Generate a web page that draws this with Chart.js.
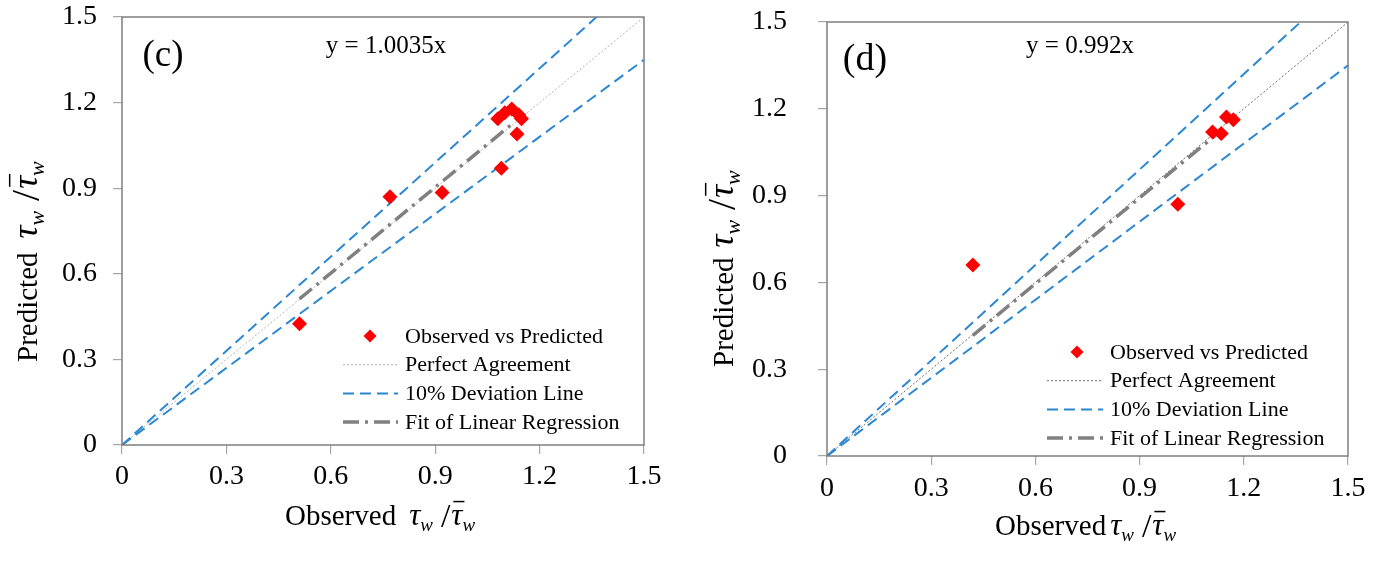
<!DOCTYPE html>
<html>
<head>
<meta charset="utf-8">
<script src="https://cdn.jsdelivr.net/npm/chart.js@4.4.0/dist/chart.umd.min.js"></script>
<style>
  html, body { margin: 0; padding: 0; background: #fff; }
  #wrap { position: relative; width: 1386px; height: 572px; }
  .pane { position: absolute; top: 0; width: 693px; height: 572px; }
</style>
</head>
<body>
<div id="wrap">
  <div class="pane" style="left:0"><canvas id="chartC" width="693" height="572"></canvas></div>
  <div class="pane" style="left:693px"><canvas id="chartD" width="693" height="572"></canvas></div>
</div>
<script>
/* ==================== */
/* 1  Data               */
/* ==================== */
const tickValues = [0, 0.3, 0.6, 0.9, 1.2, 1.5];
const tickLabels = ['0', '0.3', '0.6', '0.9', '1.2', '1.5'];

const legendLabels = ['Observed vs Predicted', 'Perfect Agreement', '10% Deviation Line', 'Fit of Linear Regression'];

// panel (c)
const observedC = [0.51, 0.77, 0.92, 1.09, 1.135, 1.08, 1.10, 1.12, 1.14, 1.148];
const predictedC = [0.425, 0.87, 0.885, 0.97, 1.09, 1.143, 1.164, 1.178, 1.157, 1.143];
const fitXC = [0.51, 1.12];
const fitYC = [0.512, 1.124];

// panel (d)
const observedD = [0.42, 1.01, 1.11, 1.135, 1.15, 1.17];
const predictedD = [0.66, 0.87, 1.12, 1.115, 1.172, 1.162];
const fitXD = [0.42, 1.13];
const fitYD = [0.417, 1.12];

// reference lines (both panels)
const refX = [0, 1.5];
const perfectY = [0, 1.5];
const devUpperY = [0, 1.65];
const devLowerY = [0, 1.35];

/* ==================== */
/* 2  Helpers            */
/* ==================== */
const SERIF = '"Liberation Serif", "Times New Roman", serif';
const toPts = (xs, ys) => xs.map((x, i) => ({ x: x, y: ys[i] }));

// "prefix  τw / τ̄w" drawn piece by piece (subscripts + overline)
function drawTauLabel(ctx, x, y, prefix, t) {
  ctx.textAlign = 'left';
  ctx.textBaseline = 'alphabetic';
  ctx.fillStyle = '#000';
  ctx.font = t.fs + 'px ' + SERIF;
  ctx.fillText(prefix, x, y);
  x += ctx.measureText(prefix).width + t.gap;
  const sub = Math.round(t.tfs * 0.6);
  const tau = (bar) => {
    ctx.font = 'italic ' + t.tfs + 'px ' + SERIF;
    const w = ctx.measureText('τ').width;
    ctx.fillText('τ', x, y);
    if (bar) ctx.fillRect(x + 2, y - t.tfs * 0.78, w, 1.5);
    x += w;
    ctx.font = 'italic ' + sub + 'px ' + SERIF;
    ctx.fillText('w', x, y + t.tfs * 0.2);
    x += ctx.measureText('w').width;
  };
  tau(false);
  x += t.slashGap;
  ctx.font = Math.round(t.tfs * 1.1) + 'px ' + SERIF;
  ctx.fillText('/', x, y + 2);
  x += ctx.measureText('/').width + 1;
  tau(true);
}

function drawDiamond(ctx, x, y, r, color) {
  ctx.fillStyle = color;
  ctx.beginPath();
  ctx.moveTo(x, y - r);
  ctx.lineTo(x + r, y);
  ctx.lineTo(x, y + r);
  ctx.lineTo(x - r, y);
  ctx.closePath();
  ctx.fill();
}

/* ==================== */
/* 3  Decor plugin       */
/* ==================== */
const decorPlugin = {
  id: 'decor',
  afterDraw(chart, args, o) {
    const { ctx, chartArea: a } = chart;
    const ds = chart.data.datasets;
    ctx.save();

    // frame
    ctx.strokeStyle = '#7f7f7f';
    ctx.lineWidth = 1.5;
    ctx.setLineDash([]);
    ctx.strokeRect(a.left, a.top, a.right - a.left, a.bottom - a.top);

    // panel tag and equation
    ctx.fillStyle = '#000';
    ctx.textAlign = 'center';
    ctx.textBaseline = 'alphabetic';
    ctx.font = o.tagSize + 'px ' + SERIF;
    ctx.fillText(o.tag, o.tagX, o.tagY);
    ctx.font = '25px ' + SERIF;
    ctx.fillText(o.eq, o.eqX, o.eqY);

    // legend
    const lg = o.legend;
    ctx.font = '22px ' + SERIF;
    ctx.textAlign = 'left';
    ctx.textBaseline = 'middle';
    legendLabels.forEach((label, i) => {
      const y = lg.y0 + i * lg.step;
      const d = ds[i];
      if (i === 0) {
        drawDiamond(ctx, lg.dot, y, 6.5, d.backgroundColor);
      } else {
        ctx.strokeStyle = d.borderColor;
        ctx.lineWidth = d.borderWidth;
        ctx.setLineDash(d.borderDash || []);
        ctx.beginPath();
        ctx.moveTo(lg.x0, y);
        ctx.lineTo(lg.x1, y);
        ctx.stroke();
        ctx.setLineDash([]);
      }
      ctx.fillStyle = '#000';
      ctx.fillText(label, lg.tx, y + 1);
    });

    // axis titles
    drawTauLabel(ctx, o.xTitle.x, o.xTitle.y, 'Observed', o.xTitle);
    ctx.save();
    ctx.translate(o.yTitle.x, o.yTitle.y);
    ctx.rotate(-Math.PI / 2);
    drawTauLabel(ctx, 0, 0, 'Predicted', o.yTitle);
    ctx.restore();

    ctx.restore();
  }
};

/* ==================== */
/* 4  Chart builder      */
/* ==================== */
function makeChart(id, obs, pred, fitX, fitY, g) {
  const tickFont = { family: SERIF, size: 28 };
  const axis = (fitFn, pad) => ({
    type: 'linear',
    min: 0,
    max: 1.5,
    afterBuildTicks: (s) => { s.ticks = tickValues.map(v => ({ value: v })); },
    afterFit: fitFn,
    grid: { drawOnChartArea: false, drawTicks: true, tickLength: 9, color: '#a6a6a6', lineWidth: 1.2 },
    border: { display: false },
    ticks: {
      autoSkip: false,
      maxRotation: 0,
      padding: pad,
      color: '#000',
      font: tickFont,
      callback: (v, i) => tickLabels[i]
    }
  });

  // fixed axis sizes, no label overflow padding -> chart area lands where we want
  const x = axis((s) => { s.height = g.xAxisH; s.paddingLeft = 0; s.paddingRight = 0; }, g.xTickPad);
  const y = axis((s) => { s.width = g.yAxisW; s.paddingTop = 0; s.paddingBottom = 0; }, g.yTickPad);

  return new Chart(document.getElementById(id), {
    type: 'scatter',
    data: {
      datasets: [
        {
          label: legendLabels[0],
          data: toPts(obs, pred),
          pointStyle: 'rectRot',
          pointRadius: 7.5,
          backgroundColor: '#ff0000',
          borderWidth: 0,
          order: 0
        },
        {
          label: legendLabels[1],
          data: toPts(refX, perfectY),
          showLine: true,
          pointRadius: 0,
          borderColor: g.perfectColor,
          borderWidth: 1,
          borderDash: [2, 2],
          order: 3
        },
        {
          label: legendLabels[2],
          data: toPts(refX, devUpperY),
          showLine: true,
          pointRadius: 0,
          borderColor: '#2b87d3',
          borderWidth: 2,
          borderDash: [11, 6],
          order: 2
        },
        {
          label: legendLabels[3],
          data: toPts(fitX, fitY),
          showLine: true,
          pointRadius: 0,
          borderColor: '#808080',
          borderWidth: 3.5,
          borderDash: [16, 6, 3, 6],
          order: 1
        },
        {
          label: legendLabels[2] + ' (lower)',
          data: toPts(refX, devLowerY),
          showLine: true,
          pointRadius: 0,
          borderColor: '#2b87d3',
          borderWidth: 2,
          borderDash: [11, 6],
          order: 2
        }
      ]
    },
    options: {
      responsive: false,
      animation: false,
      devicePixelRatio: 1,
      layout: { padding: { left: 0, top: g.padTop, right: g.padRight, bottom: 0 } },
      scales: { x: x, y: y },
      plugins: {
        legend: { display: false },
        tooltip: { enabled: false },
        decor: g.decor
      }
    },
    plugins: [decorPlugin]
  });
}

/* ==================== */
/* 5  Panels             */
/* ==================== */
makeChart('chartC', observedC, predictedC, fitXC, fitYC, {
  yAxisW: 122, xAxisH: 127, padTop: 17, padRight: 49,
  xTickPad: 6, yTickPad: 16, perfectColor: '#b3b3b3',
  decor: {
    tag: '(c)', tagSize: 37, tagX: 163, tagY: 66,
    eq: 'y = 1.0035x', eqX: 386, eqY: 53,
    legend: { y0: 336, step: 28.7, dot: 370, x0: 343, x1: 398, tx: 405 },
    xTitle: { x: 285, y: 525, gap: 13, fs: 29, tfs: 31, slashGap: 8 },
    yTitle: { x: 37, y: 362, gap: 14, fs: 29, tfs: 36, slashGap: 10 }
  }
});

makeChart('chartD', observedD, predictedD, fitXD, fitYD, {
  yAxisW: 134, xAxisH: 116, padTop: 22, padRight: 38,
  xTickPad: 7, yTickPad: 31, perfectColor: '#6e6e6e',
  decor: {
    tag: '(d)', tagSize: 38, tagX: 172, tagY: 70,
    eq: 'y = 0.992x', eqX: 387, eqY: 53,
    legend: { y0: 352, step: 28.7, dot: 384, x0: 354, x1: 410, tx: 417 },
    xTitle: { x: 302, y: 535, gap: 4, fs: 29, tfs: 31, slashGap: 8 },
    yTitle: { x: 40, y: 367, gap: 10, fs: 29, tfs: 36, slashGap: 10 }
  }
});
</script>
</body>
</html>
